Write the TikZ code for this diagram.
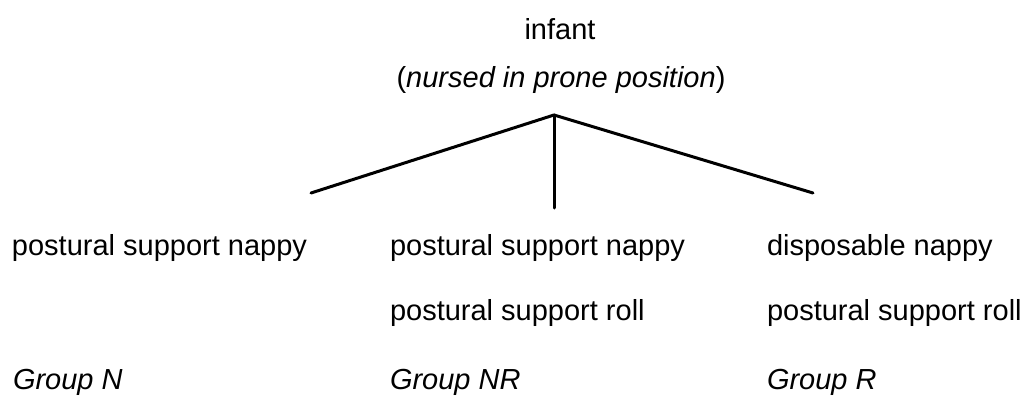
\documentclass[tikz,border=0pt]{standalone}
\usepackage{fontspec}
\setmainfont{Liberation Sans}
\begin{document}
\begin{tikzpicture}[x=1pt,y=-1pt,
  txt/.style={inner sep=0pt,outer sep=0pt,anchor=base west,font=\fontsize{29}{35}\selectfont},
  head/.style={txt,anchor=base},
  branch/.style={line width=3pt,line cap=round,line join=round}]
\useasboundingbox (0,0) rectangle (1030,396);
% heading
\node[head] (infant) at (560,40) {infant};
\node[head] (cond) at (561,88) {(\textit{nursed in prone position})};
% branching lines
\coordinate (apex) at (554,115);
\coordinate (endN) at (311,193);
\coordinate (endNR) at (554,208);
\coordinate (endR) at (813,193);
\draw[branch] (endN) -- (apex) -- (endR);
\draw[branch] (apex) -- (endNR);
% group N
\node[txt] (n1) at (12,255) {postural support nappy};
\node[txt] (n3) at (13,389) {\textit{Group N}};
% group NR
\node[txt] (nr1) at (390,255) {postural support nappy};
\node[txt] (nr2) at (390,320) {postural support roll};
\node[txt] (nr3) at (390,389) {\textit{Group NR}};
% group R
\node[txt] (r1) at (767,255) {disposable nappy};
\node[txt] (r2) at (767,320) {postural support roll};
\node[txt] (r3) at (767,389) {\textit{Group R}};
\end{tikzpicture}
\end{document}
